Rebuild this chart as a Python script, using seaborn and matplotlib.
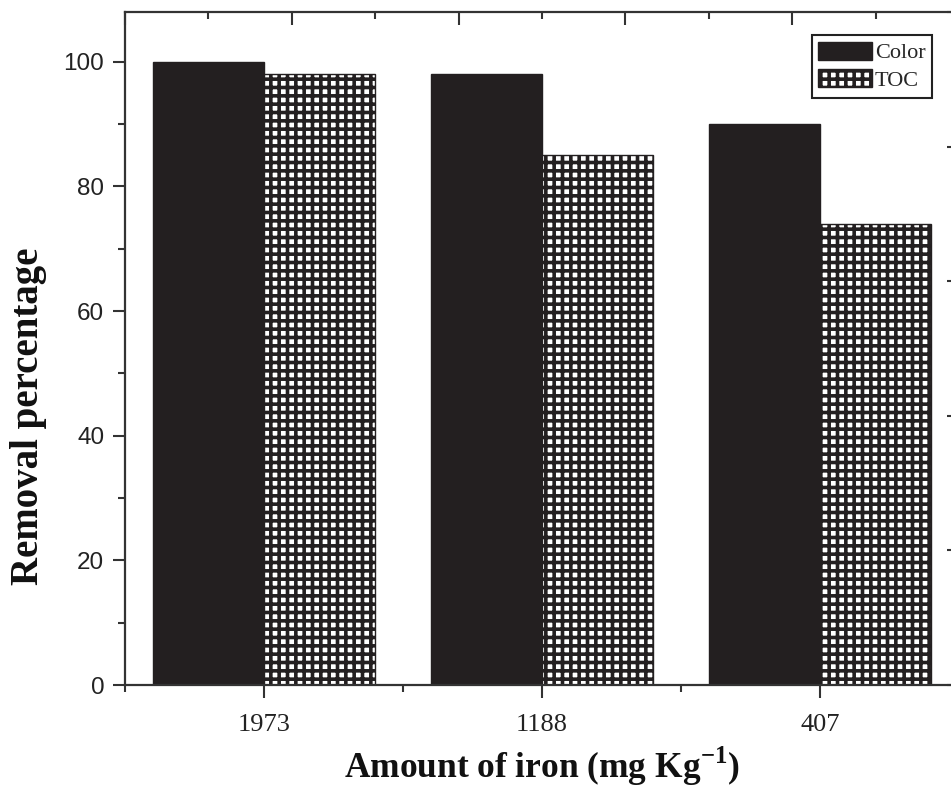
import matplotlib
matplotlib.use("Agg")
import matplotlib.pyplot as plt
from matplotlib.patches import Patch
from matplotlib.ticker import MultipleLocator, FixedLocator
import seaborn as sns
import pandas as pd

# Removal efficiency for each iron loading
iron_amounts = ["1973", "1188", "407"]
color_removal = [100, 98, 90]
toc_removal = [98, 85, 74]
series_names = ["Color", "TOC"]

df = pd.DataFrame({
    "iron": iron_amounts * 2,
    "removal": color_removal + toc_removal,
    "series": [series_names[0]] * 3 + [series_names[1]] * 3,
})

sns.set_theme(style="white")
plt.rcParams["hatch.linewidth"] = 2.6
plt.rcParams["hatch.color"] = "#231f20"
plt.rcParams["mathtext.fontset"] = "custom"
plt.rcParams["mathtext.bf"] = "Liberation Serif:bold"
plt.rcParams["mathtext.rm"] = "Liberation Serif"

fig = plt.figure(figsize=(9.51, 7.90), dpi=100)
ax = fig.add_axes([0.1314, 0.1329, 0.877, 0.8519])

sns.barplot(data=df, x="iron", y="removal", hue="series", order=iron_amounts,
            hue_order=series_names, palette=["#231f20", "white"],
            width=0.8, edgecolor="#231f20", linewidth=1.0, saturation=1,
            legend=False, ax=ax)

# hatch the TOC bars
for bar in ax.containers[1]:
    bar.set_hatch("++")
    bar.set_edgecolor("#231f20")

ax.set_xlim(-0.5, 2.5)
ax.set_ylim(0, 108)

for s in ax.spines.values():
    s.set_visible(True)
    s.set_color("#333333")
    s.set_linewidth(1.6)

ax.yaxis.set_major_locator(MultipleLocator(20))
ax.yaxis.set_minor_locator(MultipleLocator(10))
ax.xaxis.set_minor_locator(FixedLocator([-0.5, 0.5, 1.5, 2.5]))
ax.tick_params(axis="both", which="major", direction="out", length=9, width=1.5,
               color="#333333")
ax.tick_params(axis="both", which="minor", direction="out", length=5, width=1.5,
               color="#333333")
ax.tick_params(axis="x", which="major", pad=12)
ax.tick_params(axis="y", which="major", pad=6)
ax.tick_params(left=True, bottom=True, which="both")

for lab in ax.get_yticklabels():
    lab.set_fontfamily("Liberation Sans")
    lab.set_fontsize(17.5)
    lab.set_color("#222222")
for lab in ax.get_xticklabels():
    lab.set_fontfamily("Liberation Serif")
    lab.set_fontsize(19)
    lab.set_color("#222222")

ax.set_xlabel(r"Amount of iron (mg Kg$^{\mathbf{-1}}$)", fontfamily="Liberation Serif",
              fontweight="bold", fontsize=25.5, color="#111111", labelpad=6)
ax.set_ylabel("Removal percentage", fontfamily="Liberation Serif",
              fontweight="bold", fontsize=28, color="#111111")
ax.yaxis.set_label_coords(-0.094, 0.40)

# inward ticks on the top and right frame
top = ax.twiny()
top.set_xlim(0, 1)
top.xaxis.set_major_locator(MultipleLocator(0.2))
top.xaxis.set_minor_locator(MultipleLocator(0.1))
top.tick_params(axis="x", which="major", direction="in", length=9, width=1.5,
                color="#333333", labeltop=False)
top.tick_params(axis="x", which="minor", direction="in", length=5, width=1.5,
                color="#333333")
top.tick_params(top=True, which="both")
right = ax.twinx()
right.set_ylim(0, 1)
right.yaxis.set_major_locator(MultipleLocator(0.2))
right.yaxis.set_minor_locator(MultipleLocator(0.1))
right.tick_params(axis="y", which="major", direction="in", length=9, width=1.5,
                  color="#333333", labelright=False)
right.tick_params(axis="y", which="minor", direction="in", length=5, width=1.5,
                  color="#333333")
right.tick_params(right=True, which="both")
for a in (top, right):
    a.grid(False)
    for s in a.spines.values():
        s.set_visible(False)

handles = [
    Patch(facecolor="#231f20", edgecolor="#231f20", label=series_names[0]),
    Patch(facecolor="white", edgecolor="#231f20", hatch="++", label=series_names[1]),
]
leg = right.legend(handles=handles, loc="upper right", bbox_to_anchor=(0.968, 0.966),
                   bbox_transform=ax.transAxes, prop={"family": "Liberation Serif", "size": 16},
                   frameon=True, fancybox=False, edgecolor="#222222", framealpha=1,
                   handlelength=2.4, handleheight=0.9, handletextpad=0.15,
                   borderpad=0.3, labelspacing=0.25, borderaxespad=0)
leg.get_frame().set_linewidth(1.5)

fig.savefig("out.png", dpi=100)
